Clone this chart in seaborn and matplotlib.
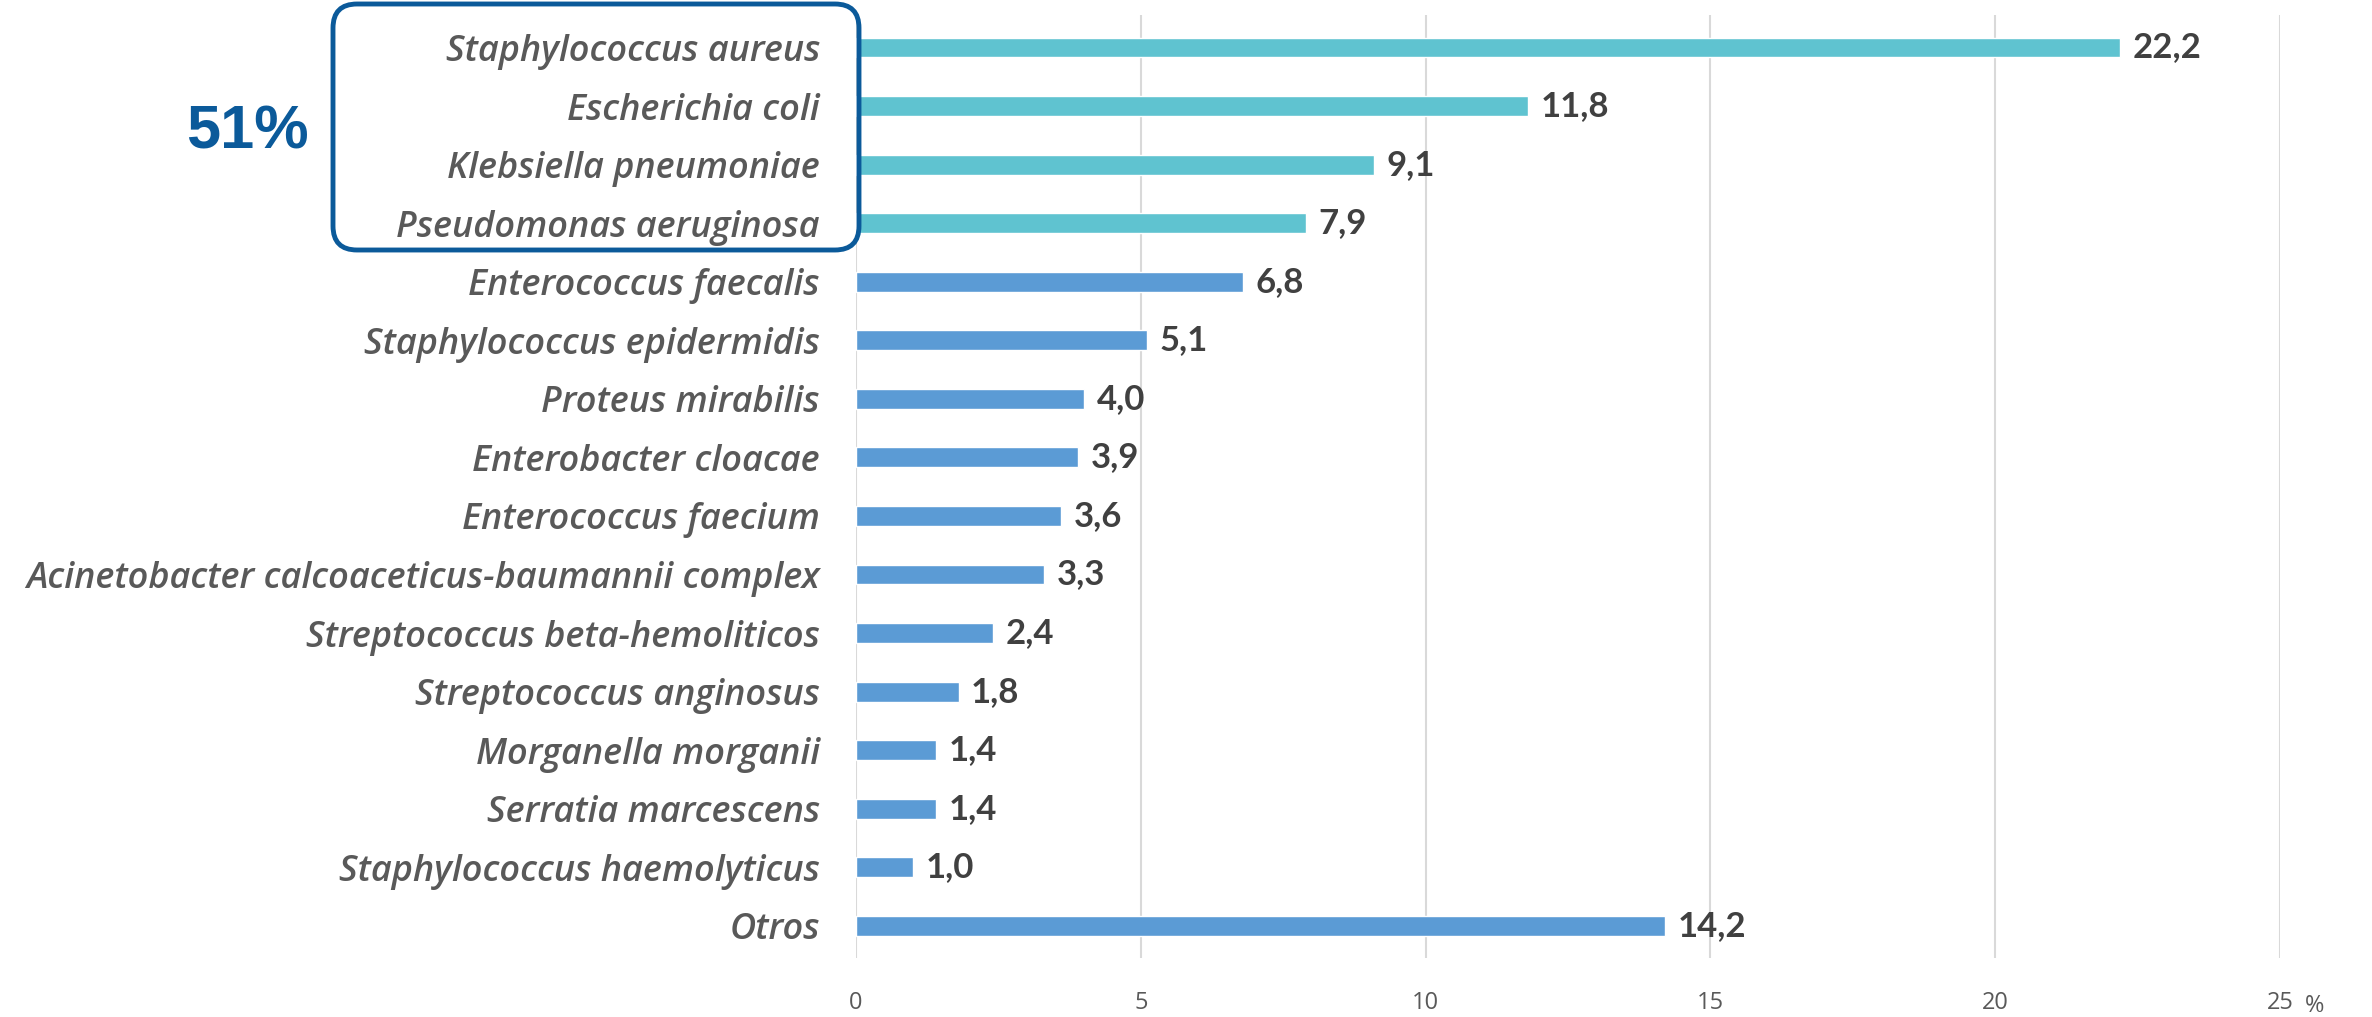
import matplotlib
matplotlib.use('Agg')
import matplotlib.pyplot as plt
from matplotlib.patches import FancyBboxPatch
from matplotlib.transforms import IdentityTransform
import seaborn as sns

# Data
organisms = [
    'Staphylococcus aureus', 'Escherichia coli', 'Klebsiella pneumoniae',
    'Pseudomonas aeruginosa', 'Enterococcus faecalis', 'Staphylococcus epidermidis',
    'Proteus mirabilis', 'Enterobacter cloacae', 'Enterococcus faecium',
    'Acinetobacter calcoaceticus-baumannii complex', 'Streptococcus beta-hemoliticos',
    'Streptococcus anginosus', 'Morganella morganii', 'Serratia marcescens',
    'Staphylococcus haemolyticus', 'Otros',
]
percent = [22.2, 11.8, 9.1, 7.9, 6.8, 5.1, 4.0, 3.9, 3.6, 3.3, 2.4, 1.8, 1.4, 1.4, 1.0, 14.2]
x_ticks = [0, 5, 10, 15, 20, 25]
top_share = '51%'

teal = '#5FC3D0'
blue = '#5B9BD5'
colors = [teal] * 4 + [blue] * (len(organisms) - 4)

sns.set_style('white')
plt.rcParams['font.family'] = ['Open Sans', 'DejaVu Sans']

fig = plt.figure(figsize=(23.72, 10.17), dpi=100)
ax = fig.add_axes([0.3609, 0.058, 0.6003, 0.927])

sns.barplot(x=percent, y=organisms, hue=organisms, palette=colors, saturation=1,
            legend=False, orient='h', width=0.34, ax=ax)

for cont in ax.containers:
    ax.bar_label(cont, labels=[f'{v:.1f}'.replace('.', ',') for v in cont.datavalues],
                 padding=9, fontsize=25, fontweight='bold', color='#404040',
                 family=['Lato', 'DejaVu Sans'])

ax.set_xlim(0, 25)
ax.set_ylim(15.55, -0.55)
ax.set_xticks(x_ticks)
ax.set_xticklabels([str(t) for t in x_ticks], fontsize=17, color='#595959')
ax.tick_params(axis='x', length=0, pad=24)
ax.tick_params(axis='y', length=0, pad=26)
for lab in ax.get_yticklabels():
    lab.set_fontsize(26)
    lab.set_style('italic')
    lab.set_fontweight('semibold')
    lab.set_color('#595959')
ax.xaxis.grid(True, color='#D9D9D9', linewidth=1.5)
ax.set_axisbelow(True)
for s in ax.spines.values():
    s.set_visible(False)
ax.set_xlabel('')
ax.set_ylabel('')

fig.text(2315 / 2372, 1 - 1006 / 1017, '%', fontsize=17, color='#595959',
         ha='center', va='center')

# rounded box around the top four organisms (pixel coordinates)
box = FancyBboxPatch((333, 1017 - 250), 526, 246,
                     boxstyle='round,pad=0,rounding_size=24',
                     transform=IdentityTransform(), fill=False,
                     edgecolor='#0B5A9A', linewidth=3.5)
fig.patches.append(box)

fig.text(247 / 2372, 1 - 133 / 1017, top_share, fontsize=44, fontweight='bold',
         color='#0B5A9A', family=['Liberation Sans', 'DejaVu Sans'],
         ha='center', va='center')

fig.savefig('out.png', dpi=100)
